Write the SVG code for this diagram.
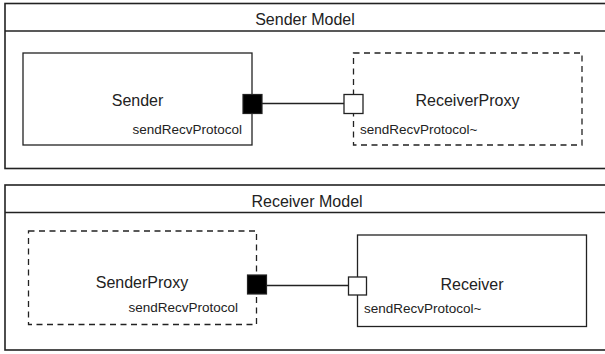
<svg xmlns="http://www.w3.org/2000/svg" width="605" height="354" viewBox="0 0 605 354">
  <style>
    .frame { fill: #fff; stroke: #222; stroke-width: 1.6; }
    .box { fill: #fff; stroke: #222; stroke-width: 1.3; }
    .proxy { fill: #fff; stroke: #222; stroke-width: 1.3; stroke-dasharray: 6 4.5; }
    .port-out { fill: #000; stroke: #222; stroke-width: 1.2; }
    .port-in { fill: #fff; stroke: #222; stroke-width: 1.3; }
    .wire { fill: none; stroke: #222; stroke-width: 1.6; }
    text { font-family: "Liberation Sans", Arial, sans-serif; fill: #222; }
    .title { font-size: 16px; text-anchor: middle; }
    .name { font-size: 16px; text-anchor: middle; }
    .proto { font-size: 13.5px; }
  </style>
  <rect width="605" height="354" fill="#fff"/>

  <!-- Sender Model -->
  <g id="sender-model">
    <rect class="frame" x="5" y="3.5" width="610" height="165"/>
    <line class="frame" x1="5" y1="31" x2="610" y2="31"/>
    <text class="title" x="305" y="25">Sender Model</text>
  </g>
  <g id="sender">
    <rect class="box" x="23" y="53" width="229" height="92"/>
    <text class="name" x="137.5" y="105.5">Sender</text>
    <text class="proto" x="242" y="133.5" text-anchor="end">sendRecvProtocol</text>
    <rect class="port-out" x="243" y="94.5" width="19" height="19"/>
  </g>
  <g id="receiver-proxy">
    <rect class="proxy" x="353.5" y="53" width="228.5" height="92"/>
    <text class="name" x="467.5" y="105.5">ReceiverProxy</text>
    <text class="proto" x="360" y="134">sendRecvProtocol~</text>
    <rect class="port-in" x="344" y="94.5" width="19" height="19"/>
  </g>

  <!-- Receiver Model -->
  <g id="receiver-model">
    <rect class="frame" x="5" y="185" width="610" height="165"/>
    <line class="frame" x1="5" y1="212.5" x2="610" y2="212.5"/>
    <text class="title" x="307" y="206.5">Receiver Model</text>
  </g>
  <g id="sender-proxy">
    <rect class="proxy" x="28.5" y="231" width="228" height="93.5"/>
    <text class="name" x="142" y="288">SenderProxy</text>
    <text class="proto" x="238" y="312" text-anchor="end">sendRecvProtocol</text>
    <rect class="port-out" x="247.5" y="275" width="19" height="19"/>
  </g>
  <g id="receiver">
    <rect class="box" x="357.5" y="235" width="229" height="91.5"/>
    <text class="name" x="472" y="289.5">Receiver</text>
    <text class="proto" x="364" y="313">sendRecvProtocol~</text>
    <rect class="port-in" x="348.5" y="277" width="18" height="18"/>
  </g>

  <!-- connectors -->
  <g id="connectors">
    <line class="wire" x1="262" y1="103.5" x2="344" y2="103.5"/>
    <line class="wire" x1="266.5" y1="285.5" x2="348.5" y2="285.5"/>
  </g>
</svg>
